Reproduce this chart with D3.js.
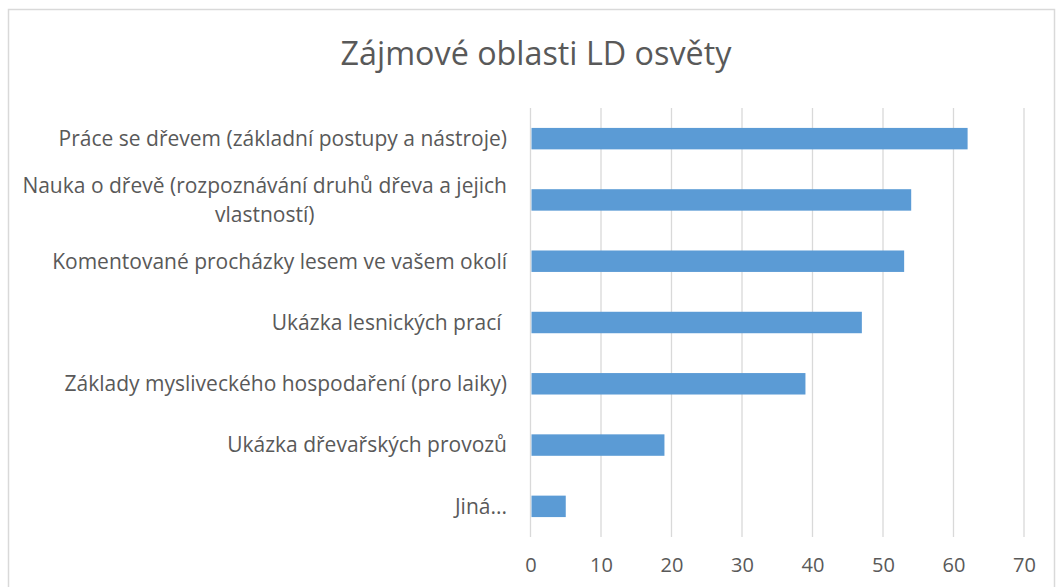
<!DOCTYPE html>
<html>
<head>
<meta charset="utf-8">
<script src="https://cdn.jsdelivr.net/npm/d3@7"></script>
<style>
  body { margin: 0; background: #fff; }
  text { font-family: "Open Sans", "Noto Sans", sans-serif; fill: #595959; white-space: pre; }
</style>
</head>
<body>
<svg id="chart" width="1056" height="587"></svg>
<script>
let categories = [
  "Práce se dřevem (základní postupy a nástroje)",
  "Nauka o dřevě (rozpoznávání druhů dřeva a jejich|vlastností)",
  "Komentované procházky lesem ve vašem okolí",
  "Ukázka lesnických prací ",
  "Základy mysliveckého hospodaření (pro laiky)",
  "Ukázka dřevařských provozů",
  "Jiná..."
];
let values = [62, 54, 53, 47, 39, 19, 5];
let xTicks = [0, 10, 20, 30, 40, 50, 60, 70];
let title = "Zájmové oblasti LD osvěty";

let svg = d3.select("#chart");

// chart frame
svg.append("rect")
  .attr("x", 8.5)
  .attr("y", 9.5)
  .attr("width", 1046)
  .attr("height", 600)
  .attr("fill", "#fff")
  .attr("stroke", "#d9d9d9")
  .attr("stroke-width", 1.5);

svg.append("text")
  .attr("x", 536)
  .attr("y", 65)
  .attr("text-anchor", "middle")
  .attr("font-size", 32.3)
  .text(title);

let x = d3.scaleLinear().domain([0, 70]).range([530.5, 1024]);
let y = d3.scaleBand().domain(categories).range([108, 537]).paddingInner(0.65).paddingOuter(0.325);

// gridlines
svg.append("g")
  .selectAll("line")
  .data(xTicks)
  .join("line")
  .attr("x1", d => x(d))
  .attr("x2", d => x(d))
  .attr("y1", 108)
  .attr("y2", 537)
  .attr("stroke", "#d9d9d9")
  .attr("stroke-width", 1.3);

// bars
svg.append("g")
  .selectAll("rect")
  .data(categories)
  .join("rect")
  .attr("x", x(0) + 1)
  .attr("y", d => y(d))
  .attr("width", (d, i) => x(values[i]) - x(0) - 1)
  .attr("height", y.bandwidth())
  .attr("fill", "#5b9bd5");

// x tick labels
let xAxis = svg.append("g")
  .attr("transform", "translate(0, 537)")
  .call(d3.axisBottom(x).tickValues(xTicks).tickSize(0).tickPadding(21));
xAxis.select(".domain").remove();
xAxis.selectAll("text")
  .attr("font-size", 20)
  .attr("font-family", "Open Sans, Noto Sans, sans-serif")
  .attr("fill", "#595959");

// category labels
let labelRight = 507;
let labels = svg.append("g")
  .selectAll("g")
  .data(categories)
  .join("g");

labels.each(function(d) {
  let g = d3.select(this);
  let lines = d.split("|");
  let cy = y(d) + y.bandwidth() / 2;
  let lh = 29;
  let t = g.selectAll("text")
    .data(lines)
    .join("text")
    .attr("font-size", 21)
    .attr("dy", "0.35em")
    .attr("y", (l, i) => cy + (i - (lines.length - 1) / 2) * lh)
    .text(l => l);
  if (lines.length === 1) {
    t.attr("x", labelRight).attr("text-anchor", "end");
  } else {
    let w = d3.max(t.nodes(), n => n.getComputedTextLength());
    t.attr("x", labelRight - w / 2).attr("text-anchor", "middle");
  }
});
</script>
</body>
</html>
